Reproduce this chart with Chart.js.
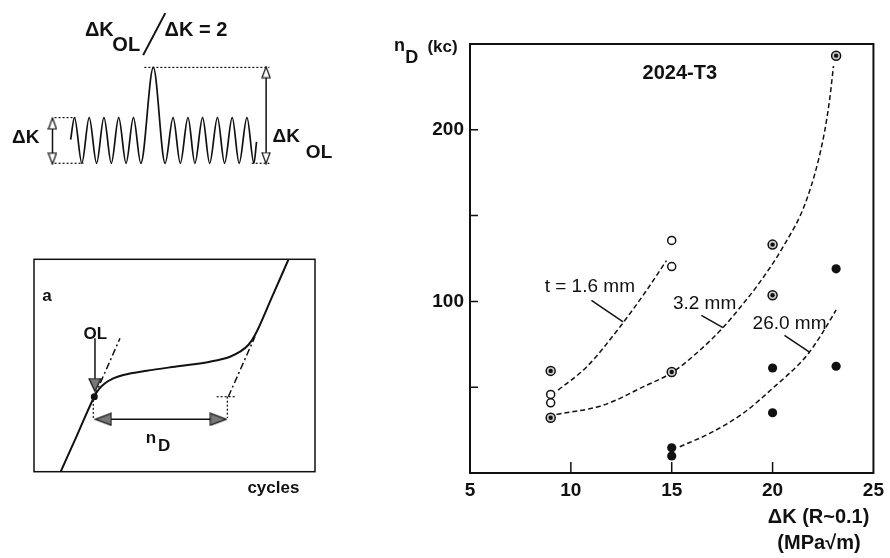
<!DOCTYPE html>
<html>
<head>
<meta charset="utf-8">
<script src="https://cdn.jsdelivr.net/npm/chart.js@4.4.0/dist/chart.umd.min.js"></script>
<style>
  html, body { margin: 0; padding: 0; background: #fff; }
  body { width: 890px; height: 558px; position: relative; overflow: hidden; }
  .panel { position: absolute; }
</style>
</head>
<body>
<div class="panel" style="left:0;top:0;width:340px;height:190px"><canvas id="wave"></canvas></div>
<div class="panel" style="left:20px;top:240px;width:320px;height:260px"><canvas id="crack"></canvas></div>
<div class="panel" style="left:370px;top:0;width:520px;height:558px"><canvas id="main"></canvas></div>
<script>
// ---- main plot: delay cycles nD (kc) vs dK (MPa sqrt m), 2024-T3 ----
var dk16 = [9, 9, 15, 15];
var nd16 = [45.8, 40.9, 135.5, 120.3];
var dk32 = [9, 9, 15, 20, 20, 23.15];
var nd32 = [59.5, 32.2, 58.9, 133.1, 103.6, 243.2];
var dk260 = [15, 15, 20, 20, 23.15, 23.15];
var nd260 = [14.7, 9.9, 61.2, 35.1, 62.2, 119];

// dashed trend curves
var c16x = [9.37, 10.78, 12.43, 13.75, 14.74];
var c16y = [48.3, 61.8, 85.1, 106.4, 123.8];
var c32x = [9.29, 11.6, 13.58, 15.06, 16.39, 17.54, 18.61, 19.19, 20.51, 21.67, 22.49, 22.82, 23.02];
var c32y = [34.1, 39.5, 50.2, 58.9, 71.5, 84.7, 99.6, 108.3, 131.6, 158.7, 193.6, 216.9, 237.2];
var c260x = [15.4, 16.88, 18.53, 20.18, 21.34, 21.83, 22.49, 23.15];
var c260y = [15.3, 23.1, 34.7, 51.2, 63.8, 70.5, 82.0, 95.0];

// leader lines from the labels to the curves
var lead16x = [11.02, 12.59], lead16y = [100.6, 88.0];
var lead32x = [16.47, 17.54], lead32y = [91.9, 84.7];
var lead260x = [20.59, 21.83], lead260y = [80.2, 70.5];

var xTicks = [5, 10, 15, 20, 25];
var yLabelled = [100, 200];

// ---- top-left sketch: load sequence with one overload ----
var waveX = [-0.26, 0, 0.5, 1, 1.5, 2, 2.5, 3, 3.5, 4, 4.5, 5.35, 6.15, 6.69, 7.18, 7.7, 8.17, 8.69, 9.17, 9.7, 10.18, 10.7, 11.17, 11.7, 12.17, 12.35];
var waveY = [0.52, 1, 0, 1, 0, 1, 0, 1, 0, 1, 0, 2.1, 0, 1, 0, 1, 0, 1, 0, 1, 0, 1, 0, 1, 0, 0.47];

// ---- bottom-left sketch: crack length a vs cycles ----
var crackX = [9.5, 15.5, 21.46, 22.88, 25.27, 28.22, 31.78, 40.11, 51.96, 62.63, 69.75, 73.31, 76.26, 78.65, 84.6, 90.5];
var crackY = [0, 17.7, 35.31, 38.47, 41.62, 43.97, 45.53, 47.55, 49.76, 51.79, 54.14, 56.5, 59.65, 64.36, 82.0, 99.7];

var FONT = '"Liberation Sans", Arial, sans-serif';

function pts(xs, ys) {
	return xs.map(function(x, i) { return { x: x, y: ys[i] }; });
}

// elongated arrow head used as a point style (drawn pointing up)
function headImage(len, wid, fill) {
	var c = document.createElement('canvas');
	c.width = wid + 2;
	c.height = len + 2;
	var g = c.getContext('2d');
	g.beginPath();
	g.moveTo(c.width / 2, 1);
	g.lineTo(c.width - 1, len + 1);
	g.lineTo(1, len + 1);
	g.closePath();
	g.fillStyle = fill;
	g.fill();
	g.lineWidth = 1.2;
	g.strokeStyle = '#111';
	g.stroke();
	return c;
}

// text placed in data units of the chart
function textLayer(id, items) {
	return {
		id: id,
		afterDatasetsDraw: function(chart) {
			var ctx = chart.ctx, xs = chart.scales.x, ys = chart.scales.y;
			ctx.save();
			ctx.fillStyle = '#111';
			ctx.textBaseline = 'middle';
			items.forEach(function(t) {
				ctx.font = t.font;
				ctx.textAlign = t.align || 'center';
				ctx.fillText(t.text, xs.getPixelForValue(t.x), ys.getPixelForValue(t.y));
			});
			ctx.restore();
		}
	};
}

// box round the plot area, with inward ticks from the scales
function frame(width, tickX, tickY) {
	return {
		id: 'frame',
		afterDraw: function(chart) {
			var a = chart.chartArea, ctx = chart.ctx;
			ctx.save();
			ctx.strokeStyle = '#111';
			ctx.lineWidth = width;
			ctx.strokeRect(a.left, a.top, a.right - a.left, a.bottom - a.top);
			ctx.lineWidth = 1.5;
			ctx.beginPath();
			if (tickY) {
				chart.scales.y.ticks.forEach(function(t) {
					if (t.value <= chart.scales.y.min || t.value >= chart.scales.y.max) return;
					var p = chart.scales.y.getPixelForValue(t.value);
					ctx.moveTo(a.left, p);
					ctx.lineTo(a.left + tickY, p);
				});
			}
			if (tickX) {
				chart.scales.x.ticks.forEach(function(t) {
					if (t.value <= chart.scales.x.min || t.value >= chart.scales.x.max) return;
					var p = chart.scales.x.getPixelForValue(t.value);
					ctx.moveTo(p, a.bottom);
					ctx.lineTo(p, a.bottom - tickX);
				});
			}
			ctx.stroke();
			ctx.restore();
		}
	};
}

function seg(xs, ys, opts) {
	var d = {
		data: pts(xs, ys),
		borderColor: '#111',
		borderWidth: 1.5,
		pointRadius: 0,
		fill: false
	};
	for (var k in opts) d[k] = opts[k];
	return d;
}

function hiddenScales(xmin, xmax, ymin, ymax) {
	return {
		x: { type: 'linear', min: xmin, max: xmax, display: false },
		y: { type: 'linear', min: ymin, max: ymax, display: false }
	};
}

var baseOpts = {
	responsive: true,
	maintainAspectRatio: false,
	animation: false,
	events: [],
	plugins: { legend: { display: false }, tooltip: { enabled: false } }
};

function opts(extra) {
	var o = {};
	for (var k in baseOpts) o[k] = baseOpts[k];
	for (var j in extra) o[j] = extra[j];
	return o;
}

// note: chart.js paints dataset 0 last, so marks listed first end up on top

// ---------- top-left: wave ----------
var openHead = headImage(11, 8, '#fff');
new Chart(document.getElementById('wave'), {
	type: 'line',
	data: {
		datasets: [
			seg([-1.49, -1.49], [0.098, 0.873], { pointStyle: openHead, pointRadius: 5, pointRotation: [180, 0] }),
			seg([13.0, 13.0], [0.112, 1.996], { pointStyle: openHead, pointRadius: 5, pointRotation: [180, 0] }),
			seg(waveX, waveY, { borderWidth: 1.7, cubicInterpolationMode: 'monotone' }),
			seg([-1.35, 0.06], [1, 1], { borderWidth: 1.2, borderDash: [2, 2] }),
			seg([-1.35, 0.61], [0, 0], { borderWidth: 1.2, borderDash: [2, 2] }),
			seg([4.74, 13.22], [2.1, 2.1], { borderWidth: 1.2, borderDash: [2, 2] }),
			seg([12.02, 13.22], [0, 0], { borderWidth: 1.2, borderDash: [2, 2] }),
			seg([4.66, 6.16], [2.37, 3.29], { borderWidth: 2 })
		]
	},
	options: opts({ scales: hiddenScales(-4.61, 17.57, -0.443, 3.435) }),
	plugins: [textLayer('waveText', [
		{ text: 'ΔK', x: 1.69, y: 2.92, font: 'bold 20px ' + FONT },
		{ text: 'OL', x: 3.51, y: 2.58, font: 'bold 20px ' + FONT },
		{ text: 'ΔK = 2', x: 8.24, y: 2.92, font: 'bold 20px ' + FONT },
		{ text: 'ΔK', x: -3.31, y: 0.55, font: 'bold 19px ' + FONT },
		{ text: 'ΔK', x: 14.36, y: 0.58, font: 'bold 19px ' + FONT },
		{ text: 'OL', x: 16.59, y: 0.23, font: 'bold 19px ' + FONT }
	])]
});

// ---------- bottom-left: crack growth ----------
var grayHead = headImage(16, 12, '#777');
new Chart(document.getElementById('crack'), {
	type: 'line',
	data: {
		datasets: [
			seg([21.46], [35.31], { showLine: false, pointRadius: 3.5, pointBackgroundColor: '#111', pointBorderWidth: 0 }),
			seg([24.66, 65.6], [24.67, 24.67], { pointStyle: grayHead, pointRadius: 5, pointRotation: [270, 90] }),
			seg([21.7, 21.7], [62.8, 40.8], { pointStyle: headImage(13, 12, '#777'), pointRadius: [0, 5], pointRotation: 180 }),
			seg(crackX, crackY, { borderWidth: 2, cubicInterpolationMode: 'monotone' }),
			seg([21.46, 30.6], [35.31, 62.8], { borderDash: [7, 3, 2, 3] }),
			seg([69.15, 78.65], [35.31, 63.65], { borderDash: [7, 3, 2, 3] }),
			seg([65.0, 72.1], [35.31, 35.31], { borderWidth: 1.2, borderDash: [2, 2] }),
			seg([21.1, 21.1], [33.8, 24.3], { borderWidth: 1.2, borderDash: [2, 2] }),
			seg([68.8, 68.8], [35.31, 25.3], { borderWidth: 1.2, borderDash: [2, 2] })
		]
	},
	options: opts({
		layout: { padding: { left: 14, top: 19.3, right: 25, bottom: 28.3 } },
		scales: hiddenScales(0, 100, 0, 100)
	}),
	plugins: [frame(1.5, 0, 0), textLayer('crackText', [
		{ text: 'a', x: 4.6, y: 82.7, font: 'bold 17px ' + FONT },
		{ text: 'OL', x: 21.8, y: 64.6, font: 'bold 17px ' + FONT },
		{ text: 'n', x: 41.6, y: 15.9, font: 'bold 17px ' + FONT },
		{ text: 'D', x: 46.3, y: 11.8, font: 'bold 17px ' + FONT },
		{ text: 'cycles', x: 85.2, y: -7.8, font: 'bold 17px ' + FONT }
	])]
});

// ---------- right: main data plot ----------
var dashed = { borderDash: [5, 3], cubicInterpolationMode: 'monotone' };
new Chart(document.getElementById('main'), {
	type: 'line',
	data: {
		datasets: [
			{ label: '3.2 mm core', data: pts(dk32, nd32), showLine: false, pointRadius: 2.2,
				pointBorderWidth: 0, pointBackgroundColor: '#111' },
			{ label: '3.2 mm', data: pts(dk32, nd32), showLine: false, pointRadius: 4.5,
				pointBorderWidth: 1.5, pointBorderColor: '#111', pointBackgroundColor: '#cfcfcf' },
			{ label: 't = 1.6 mm', data: pts(dk16, nd16), showLine: false, pointRadius: 4,
				pointBorderWidth: 1.5, pointBorderColor: '#111', pointBackgroundColor: '#fff' },
			{ label: '26.0 mm', data: pts(dk260, nd260), showLine: false, pointRadius: 4.6,
				pointBorderWidth: 0, pointBackgroundColor: '#111' },
			seg(c16x, c16y, dashed),
			seg(c32x, c32y, dashed),
			seg(c260x, c260y, dashed),
			seg(lead16x, lead16y, {}),
			seg(lead32x, lead32y, {}),
			seg(lead260x, lead260y, {})
		]
	},
	options: opts({
		layout: { padding: { left: 0, top: 44, right: 16, bottom: 0 } },
		scales: {
			x: {
				type: 'linear', min: xTicks[0], max: xTicks[xTicks.length - 1],
				afterFit: function(s) { s.height = 85; },
				afterBuildTicks: function(s) { s.ticks = xTicks.map(function(v) { return { value: v }; }); },
				grid: { display: false, drawTicks: false },
				border: { display: false },
				ticks: { padding: 6, color: '#111', font: { family: FONT, size: 19, weight: 'bold' } }
			},
			y: {
				type: 'linear', min: 0, max: 250,
				afterFit: function(s) { s.width = 100; },
				grid: { display: false, drawTicks: false },
				border: { display: false },
				ticks: {
					stepSize: 50, padding: 6, color: '#111',
					font: { family: FONT, size: 19, weight: 'bold' },
					callback: function(v) { return yLabelled.indexOf(v) >= 0 ? String(v) : ''; }
				}
			}
		}
	}),
	plugins: [frame(2, 11, 8), textLayer('mainText', [
		{ text: '2024-T3', x: 15.4, y: 233, font: 'bold 20px ' + FONT },
		{ text: 't = 1.6 mm', x: 10.94, y: 108.3, font: '19px ' + FONT },
		{ text: '3.2 mm', x: 16.63, y: 98.7, font: '19px ' + FONT },
		{ text: '26.0 mm', x: 20.84, y: 87.0, font: '19px ' + FONT },
		{ text: 'n', x: 1.5, y: 248.8, font: 'bold 18px ' + FONT },
		{ text: 'D', x: 2.11, y: 242, font: 'bold 18px ' + FONT },
		{ text: '(kc)', x: 3.64, y: 248, font: 'bold 17px ' + FONT },
		{ text: 'ΔK (R~0.1)', x: 22.28, y: -25.8, font: 'bold 20px ' + FONT },
		{ text: '(MPa√m)', x: 22.3, y: -40.9, font: 'bold 20px ' + FONT }
	])]
});
</script>
</body>
</html>
